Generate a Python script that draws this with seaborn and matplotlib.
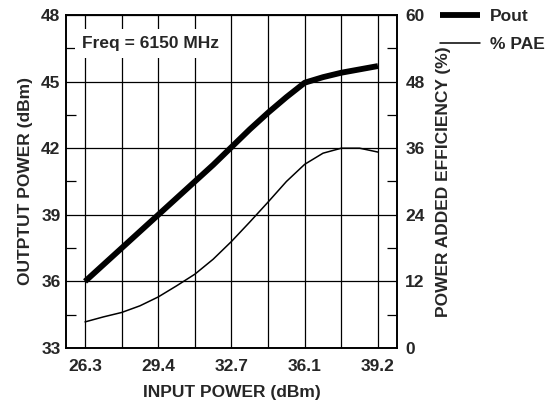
import matplotlib
matplotlib.use("Agg")
import matplotlib.pyplot as plt
from matplotlib.ticker import MultipleLocator, FixedLocator
import numpy as np
import pandas as pd
import seaborn as sns

# Sweep steps along the input-power axis (gridline index, half-step resolution)
step = [0, 0.5, 1, 1.5, 2, 2.5, 3, 3.5, 4, 4.5, 5, 5.5, 6, 6.5, 7, 7.5, 8]
pout_dbm = [36.0, 36.75, 37.5, 38.25, 39.0, 39.75, 40.5, 41.25, 42.05,
            42.85, 43.6, 44.3, 44.95, 45.2, 45.4, 45.55, 45.7]
pae_pct = [4.7, 5.6, 6.4, 7.6, 9.2, 11.2, 13.3, 16.0, 19.2,
           22.7, 26.3, 30.0, 33.1, 35.1, 36.0, 36.0, 35.3]

xtick_pos = [0, 2, 4, 6, 8]
xtick_labels = ["26.3", "29.4", "32.7", "36.1", "39.2"]

df = pd.DataFrame({"step": step, "Pout": pout_dbm, "PAE": pae_pct})

sns.set_theme(style="white")
plt.rcParams["font.family"] = ["Liberation Sans", "DejaVu Sans"]
plt.rcParams["font.weight"] = "bold"

fig = plt.figure(figsize=(5.5, 4.03), dpi=100)
ax = fig.add_axes([0.12, 0.1365, 0.6018, 0.8263])
ax2 = ax.twinx()

sns.lineplot(data=df, x="step", y="Pout", ax=ax, color="black", lw=4.2,
             label="Pout", legend=False, solid_capstyle="butt")
sns.lineplot(data=df, x="step", y="PAE", ax=ax2, color="black", lw=1.1,
             label="% PAE", legend=False)

ax.set_xlim(-0.52, 8.52)
ax.set_ylim(33, 48)
ax2.set_ylim(0, 60)

# grid: every step vertically, every 3 dBm horizontally
ax.xaxis.set_major_locator(FixedLocator(xtick_pos))
ax.xaxis.set_minor_locator(FixedLocator([1, 3, 5, 7]))
ax.set_xticklabels(xtick_labels)
ax.yaxis.set_major_locator(MultipleLocator(3))
ax.yaxis.set_minor_locator(MultipleLocator(1.5))
ax2.yaxis.set_major_locator(MultipleLocator(12))
ax2.yaxis.set_minor_locator(MultipleLocator(6))

ax.grid(True, which="major", axis="both", color="black", lw=0.9)
ax.grid(True, which="minor", axis="x", color="black", lw=0.9)
ax.set_axisbelow(True)

ax.tick_params(axis="x", which="both", length=0, pad=8, labelsize=12.5)
ax.tick_params(axis="y", which="major", length=0, pad=4, labelsize=12.5)
ax.tick_params(axis="y", which="minor", direction="in", length=7, width=0.9, color="black")
ax2.tick_params(axis="y", which="major", length=0, pad=6, labelsize=12.5)
ax2.tick_params(axis="y", which="minor", direction="in", length=7, width=0.9, color="black")

for a in (ax, ax2):
    for s in a.spines.values():
        s.set_color("black")
        s.set_linewidth(1.2)

ax.set_xlabel("INPUT POWER (dBm)", fontsize=12.5, fontweight="bold", labelpad=8)
ax.set_ylabel("OUTPTUT POWER (dBm)", fontsize=12.5, fontweight="bold", labelpad=6)
ax2.set_ylabel("POWER ADDED EFFICIENCY (%)", fontsize=12.5, fontweight="bold", labelpad=8)

ax.text(0.048, 0.915, "Freq = 6150 MHz", transform=ax.transAxes, fontsize=12.5,
        fontweight="bold", va="center", ha="left", zorder=5,
        bbox=dict(facecolor="white", edgecolor="none", pad=5))

handles = ax.get_lines()[:1] + ax2.get_lines()[:1]
fig.legend(handles, ["Pout", "% PAE"], loc="upper left",
           bbox_to_anchor=(0.8, 0.978), frameon=False,
           borderaxespad=0, borderpad=0,
           handlelength=2.3, labelspacing=0.75, handletextpad=0.57,
           prop={"weight": "bold", "size": 12.5})

fig.savefig("out.png", dpi=100)
